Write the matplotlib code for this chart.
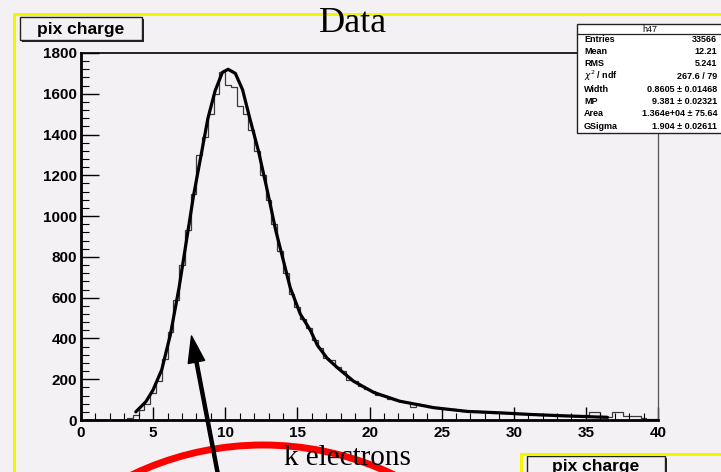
import numpy as np
import matplotlib
matplotlib.use('Agg')
import matplotlib.pyplot as plt
from matplotlib.patches import Rectangle, Circle
from matplotlib.ticker import MultipleLocator

# histogram: 100 bins of 0.4 from 0 to 40
bin_edges = np.linspace(0, 40, 101)
counts = [0, 0, 0, 0, 0, 0, 0, 0, 10, 25,
          50, 80, 130, 190, 300, 430, 590, 760, 930, 1110,
          1300, 1390, 1500, 1600, 1705, 1645, 1635, 1540, 1500, 1420,
          1320, 1200, 1080, 960, 830, 720, 620, 555, 495, 450,
          390, 355, 305, 295, 258, 240, 198, 190, 165, 150,
          140, 125, 118, 105, 98, 92, 88, 65, 78, 72,
          66, 62, 58, 55, 52, 48, 46, 42, 44, 40,
          38, 36, 36, 33, 34, 31, 30, 28, 27, 26,
          24, 25, 22, 21, 20, 22, 18, 24, 40, 40,
          18, 15, 38, 40, 22, 20, 20, 12, 5, 4]

# langaus fit curve
fit_x = [3.8, 4.5, 5.0, 5.6, 6.2, 6.8, 7.4, 7.8, 8.3, 8.8, 9.3, 9.8, 10.2,
         10.7, 11.2, 11.7, 12.3, 12.9, 13.5, 14.0, 14.5, 15.2, 15.9, 16.4,
         17.1, 17.8, 18.9, 20.3, 22.1, 24.5, 26.8, 29.1, 31.2, 33.7, 36.5]
fit_y = [40, 90, 148, 247, 420, 650, 920, 1100, 1290, 1480, 1615, 1705, 1720,
         1700, 1620, 1480, 1320, 1130, 930, 790, 650, 520, 440, 365,
         300, 255, 190, 135, 92, 60, 42, 35, 27, 20, 13]

stat_labels = ["Entries", "Mean", "RMS", r"$\chi^2$ / ndf", "Width", "MP", "Area", "GSigma"]
stat_values = ["33566", "12.21", "5.241", "267.6 / 79", "0.8605 \u00b1 0.01468",
               "9.381 \u00b1 0.02321", "1.364e+04 \u00b1 75.64", "1.904 \u00b1 0.02611"]

BG = '#f4f1f4'
YEL = '#f5f500'
W, H = 721, 472

fig = plt.figure(figsize=(W / 100, H / 100), dpi=100, facecolor=BG)
ax = fig.add_axes([81 / W, 52 / H, 577 / W, 367 / H])
ax.set_facecolor(BG)

ax.stairs(counts, bin_edges, color='#3a3a3a', linewidth=0.9)
ax.plot(fit_x, fit_y, color='black', linewidth=2.3, solid_capstyle='round')

ax.set_xlim(0, 40)
ax.set_ylim(0, 1800)
ax.xaxis.set_major_locator(MultipleLocator(5))
ax.xaxis.set_minor_locator(MultipleLocator(1))
ax.yaxis.set_major_locator(MultipleLocator(200))
ax.yaxis.set_minor_locator(MultipleLocator(40))
ax.tick_params(axis='x', which='major', direction='in', length=9.5, width=1, pad=4,
               labelsize=11, top=False)
ax.tick_params(axis='x', which='minor', direction='in', length=5, width=0.8, top=False)
ax.tick_params(axis='y', which='major', direction='in', length=13, width=1, pad=3,
               labelsize=11, right=False)
ax.tick_params(axis='y', which='minor', direction='in', length=6, width=0.8, right=False)
for lab in ax.get_xticklabels() + ax.get_yticklabels():
    lab.set_fontfamily('Liberation Sans')
    lab.set_fontweight('bold')
ax.spines['left'].set_linewidth(2.0)
ax.spines['bottom'].set_linewidth(2.0)
ax.spines['top'].set_linewidth(1.2)
ax.spines['right'].set_linewidth(0.9)
ax.spines['right'].set_color('#555555')

# overlay in pixel coordinates for the canvas decorations
ov = fig.add_axes([0, 0, 1, 1], zorder=10)
ov.set_xlim(0, W)
ov.set_ylim(H, 0)
ov.axis('off')
ov.patch.set_alpha(0)

# yellow pad borders
ov.plot([13.5, 13.5, W], [H, 14, 14], color=YEL, linewidth=2.2)
ov.plot([521, 521, W], [H, 454, 454], color=YEL, linewidth=2.2)

# title
ov.text(353, 32, "Data", family='Liberation Serif', fontsize=26, ha='center', va='baseline')

# "pix charge" boxes
ov.add_patch(Rectangle((22, 19), 122, 23, facecolor='#222222', edgecolor='none'))
ov.add_patch(Rectangle((20, 17), 122, 23, facecolor=BG, edgecolor='#222222', linewidth=1.0))
ov.text(81, 34, "pix charge", family='Liberation Sans', fontweight='bold', fontsize=12.5,
        ha='center', va='baseline')
ov.add_patch(Rectangle((529, 458), 138, 23, facecolor='#222222', edgecolor='none'))
ov.add_patch(Rectangle((527, 456), 138, 23, facecolor=BG, edgecolor='#222222', linewidth=1.0))
ov.text(596, 471.5, "pix charge", family='Liberation Sans', fontweight='bold', fontsize=12.5,
        ha='center', va='baseline')

# stats box
ov.add_patch(Rectangle((577, 24), 160, 109, facecolor='white', edgecolor='#222222', linewidth=1.0))
ov.plot([577, W], [34, 34], color='#222222', linewidth=0.9)
ov.text(650, 31.5, "h47", family='Liberation Sans', fontsize=6.5, ha='center', va='baseline')
row_y = [41.5, 54, 66, 79, 91.5, 104, 116.5, 129]
for lab, val, yy in zip(stat_labels, stat_values, row_y):
    ov.text(584, yy, lab, family='Liberation Sans', fontweight='bold', fontsize=6.5,
            ha='left', va='baseline')
    ov.text(717, yy, val, family='Liberation Sans', fontweight='bold', fontsize=6.5,
            ha='right', va='baseline')

# x axis title
ov.text(347, 465, "k electrons", family='Liberation Serif', fontsize=21, ha='center', va='baseline')

# red circle and arrow drawn on top
ov.add_patch(Circle((263, 748), 303, fill=False, edgecolor='#ff0000', linewidth=5))
ov.annotate('', xy=(191.5, 336), xytext=(219, 480),
            arrowprops=dict(width=2.2, headwidth=12, headlength=19, color='black'))

fig.savefig('out.png', dpi=100, facecolor=BG)
